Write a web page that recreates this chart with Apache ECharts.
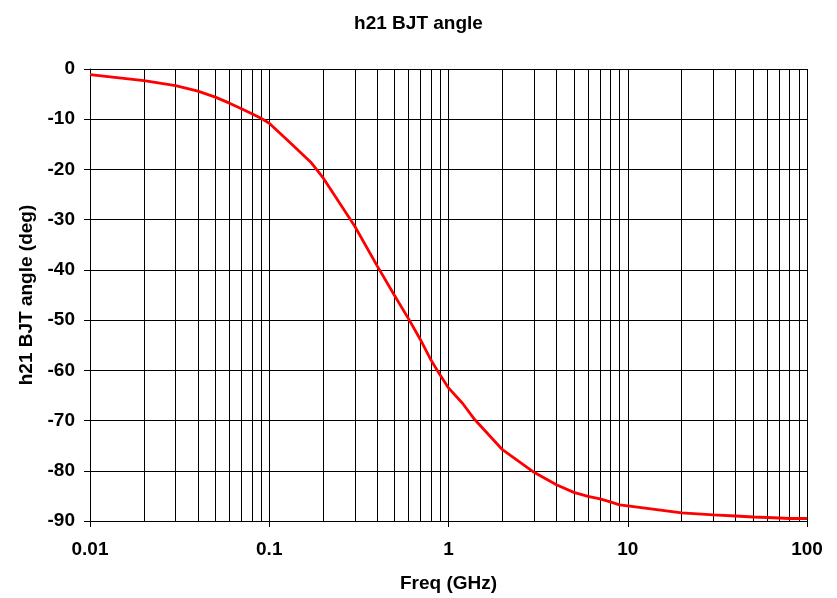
<!DOCTYPE html>
<html>
<head>
<meta charset="utf-8">
<title>h21 BJT angle</title>
<script src="https://cdn.jsdelivr.net/npm/echarts@6/dist/echarts.min.js"></script>
<style>
  html, body { margin: 0; padding: 0; background: #fff; }
  #chart { width: 837px; height: 598px; }
</style>
</head>
<body>
<div id="chart"></div>
<script>
// frequency points (GHz) and the measured angle (deg)
const freq = [0.01, 0.02, 0.03, 0.04, 0.05, 0.06, 0.07, 0.08, 0.09, 0.1,
  0.13, 0.17, 0.2, 0.3, 0.4, 0.5, 0.6, 0.7, 0.8, 0.9, 1,
  1.2, 1.4, 2, 3, 4, 5, 6, 7, 8, 9, 10,
  20, 30, 40, 50, 60, 70, 80, 90, 100]
const angle = [-1.1, -2.3, -3.3, -4.4, -5.6, -6.8, -7.9, -8.9, -9.8, -10.8,
  -14.6, -18.5, -21.7, -31.3, -39.2, -45.1, -49.8, -54.0, -58.0, -61.0, -63.5,
  -66.6, -69.8, -75.8, -80.3, -82.8, -84.3, -85.1, -85.6, -86.2, -86.8, -87.0,
  -88.4, -88.8, -89.0, -89.2, -89.3, -89.4, -89.5, -89.5, -89.5]

// log grid lines between the decades
const minorGrid = [0.02, 0.03, 0.04, 0.05, 0.06, 0.07, 0.08, 0.09,
  0.2, 0.3, 0.4, 0.5, 0.6, 0.7, 0.8, 0.9,
  2, 3, 4, 5, 6, 7, 8, 9,
  20, 30, 40, 50, 60, 70, 80, 90]

const font = 'Liberation Sans, Arial, sans-serif'
const chart = echarts.init(document.getElementById('chart'))

chart.setOption({
  animation: false,
  title: {
    text: 'h21 BJT angle',
    left: 'center',
    top: 9,
    textStyle: { fontFamily: font, fontSize: 19, fontWeight: 'bold', color: '#000' }
  },
  grid: {
    left: 90,
    right: 30,
    top: 69,
    bottom: 75,
    containLabel: false
  },
  xAxis: {
    type: 'log',
    logBase: 10,
    min: 0.01,
    max: 100,
    name: 'Freq (GHz)',
    nameLocation: 'middle',
    nameGap: 53,
    nameTextStyle: { fontFamily: font, fontSize: 19, fontWeight: 'bold', color: '#000' },
    axisLine: { onZero: false, lineStyle: { color: '#000', width: 1 } },
    axisTick: { show: true, length: 6, lineStyle: { color: '#000' } },
    axisLabel: {
      margin: 19,
      fontFamily: font,
      fontSize: 19,
      fontWeight: 'bold',
      color: '#000',
      formatter: v => String(+v.toPrecision(3))
    },
    splitLine: { show: true, lineStyle: { color: '#000', width: 1 } }
  },
  yAxis: {
    type: 'value',
    min: -90,
    max: 0,
    interval: 10,
    name: 'h21 BJT angle (deg)',
    nameLocation: 'middle',
    nameGap: 53,
    nameTextStyle: { fontFamily: font, fontSize: 19, fontWeight: 'bold', color: '#000' },
    axisLine: { show: true, lineStyle: { color: '#000', width: 1 } },
    axisTick: { show: true, length: 6, lineStyle: { color: '#000' } },
    axisLabel: {
      margin: 15,
      fontFamily: font,
      fontSize: 19,
      fontWeight: 'bold',
      color: '#000'
    },
    splitLine: { show: true, lineStyle: { color: '#000', width: 1 } }
  },
  series: [
    {
      name: 'grid',
      type: 'line',
      data: [],
      silent: true,
      markLine: {
        silent: true,
        symbol: 'none',
        label: { show: false },
        lineStyle: { color: '#000', width: 1, type: 'solid' },
        data: minorGrid.map(f => ({ xAxis: f }))
      }
    },
    {
      name: 'angle',
      type: 'line',
      data: freq.map((f, i) => [f, angle[i]]),
      showSymbol: false,
      smooth: false,
      lineStyle: { color: '#ff0000', width: 2.8 },
      z: 5
    }
  ]
})
</script>
</body>
</html>
